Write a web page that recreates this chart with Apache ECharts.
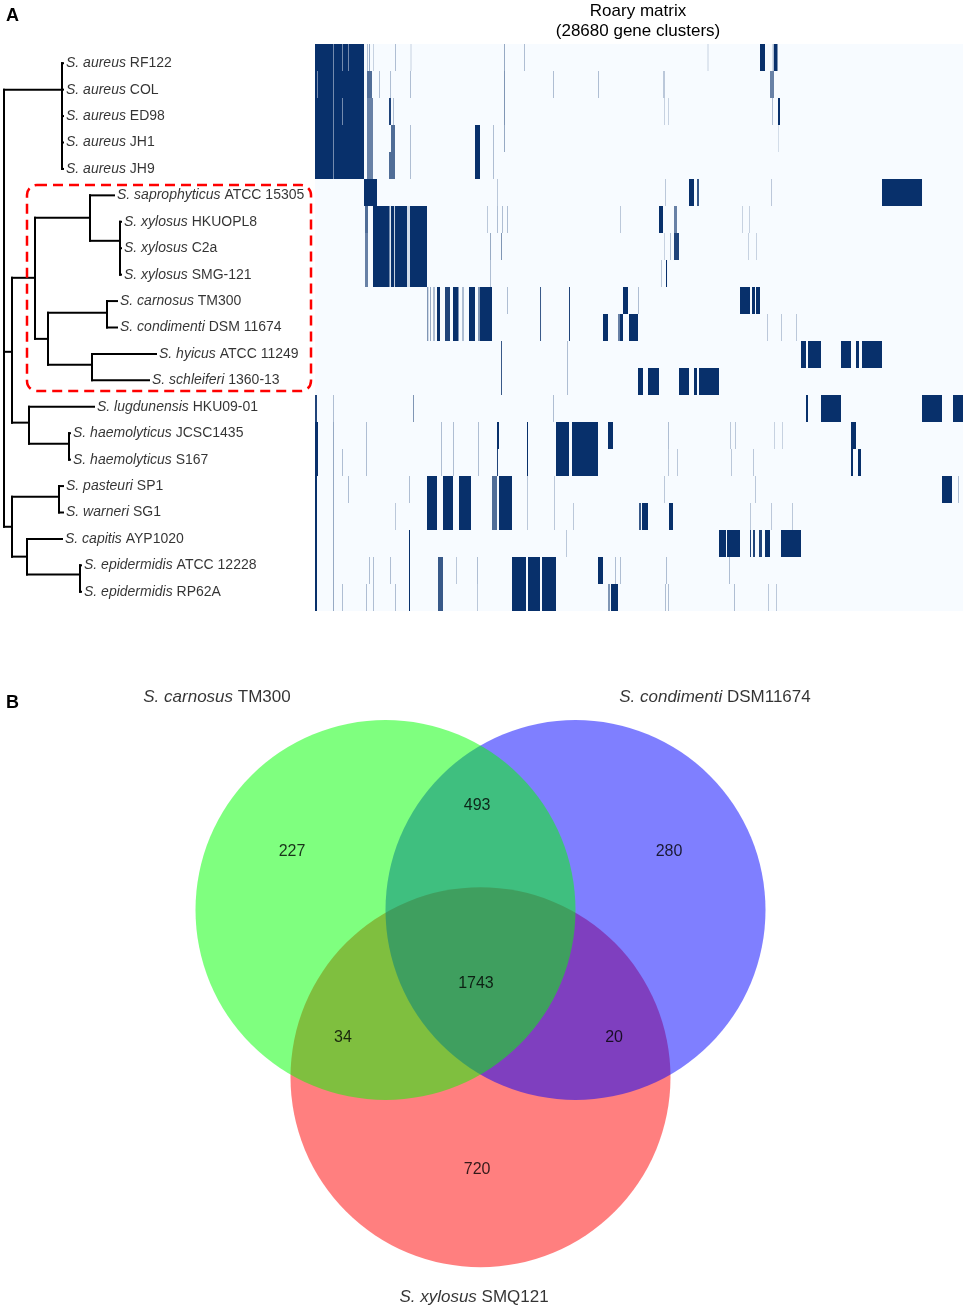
<!DOCTYPE html>
<html><head><meta charset="utf-8">
<script src="https://cdn.jsdelivr.net/npm/echarts@6/dist/echarts.min.js"></script>
<style>html,body{margin:0;padding:0;background:#fff}#main{width:965px;height:1310px}</style>
</head><body><div id="main"></div>
<script>
// ---------- Panel A: genomes (tree leaves / matrix rows) ----------
const genomeSpecies = ['S. aureus','S. aureus','S. aureus','S. aureus','S. aureus','S. saprophyticus','S. xylosus','S. xylosus','S. xylosus','S. carnosus','S. condimenti','S. hyicus','S. schleiferi','S. lugdunensis','S. haemolyticus','S. haemolyticus','S. pasteuri','S. warneri','S. capitis','S. epidermidis','S. epidermidis'];
const genomeStrains = ['RF122','COL','ED98','JH1','JH9','ATCC 15305','HKUOPL8','C2a','SMG-121','TM300','DSM 11674','ATCC 11249','1360-13','HKU09-01','JCSC1435','S167','SP1','SG1','AYP1020','ATCC 12228','RP62A'];
// tree topology: leaf -> parent internal node, branch depth
const leafParent = [1,1,1,1,1,4,5,5,5,7,7,8,8,9,10,10,12,12,13,14,14];
const leafDepth  = [64,64,64,64,64,115,122,122,122,118,118,157,150,95,71,71,64,64,63,82,82];
// internal nodes: parent, depth, row position
const nodeParent = [-1,0,0,2,3,4,3,6,6,2,9,0,11,11,13];
const nodeDepth  = [4,62,12,35,90,120,48,107,92,29,69,12,59,27,80];
const nodeRow    = [null,1.0,10.92,8.12,5.85,6.72,10.43,9.44,11.41,13.6,14.4,17.54,16.4,18.67,19.35];

// Roary presence matrix: [startCluster, endCluster, presence]
const totalClusters = 28680;
const mRF122 = [[0,2169,1],[797,841,.55],[1195,1239,.55],[1461,1505,.55],[2302,2346,.3],[2390,2434,.4],[2567,2611,.2],[3541,3585,.3],[4227,4271,.2],[8365,8409,.4],[9250,9295,.3],[17372,17416,.2],[19696,19917,1],[20249,20315,.3],[20315,20470,1]];
const mCOL = [[0,2169,1],[89,133,.55],[797,841,.55],[2302,2523,.7],[2833,2877,.3],[3320,3364,.3],[4205,4249,.3],[8365,8409,.5],[10534,10578,.3],[12526,12570,.3],[15402,15491,.25],[20138,20315,.6]];
const mED98 = [[0,2169,1],[797,841,.55],[1195,1239,.55],[2302,2567,.6],[3275,3364,.9],[3452,3497,.3],[8365,8409,.5],[15447,15491,.2],[15624,15668,.2],[20227,20271,.3],[20492,20581,1]];
const mJH1 = [[0,2169,1],[797,841,.55],[2302,2567,.6],[3364,3541,.7],[4205,4249,.3],[7082,7303,1],[7878,7922,.3],[8365,8409,.4],[20492,20537,.15]];
const mJH9 = [[0,2169,1],[797,841,.55],[2302,2567,.6],[3275,3541,.7],[4205,4249,.3],[7082,7303,1],[7878,7922,.3]];
const mATCC15305 = [[2169,2744,1],[8055,8099,.25],[15491,15535,.25],[16553,16775,1],[16907,16996,.8],[20183,20227,.25],[25095,26866,1]];
const mHKUOPL8 = [[2213,2346,.7],[2567,4957,1],[3297,3364,.1],[3497,3541,.2],[4072,4205,.15],[7613,7657,.25],[8055,8099,.3],[8277,8321,.3],[8498,8542,.3],[13499,13544,.25],[15225,15402,1],[15889,16022,.6],[18899,18943,.2],[19209,19253,.2]];
const mC2a = [[2213,2346,.6],[2567,4957,1],[3297,3364,.1],[3497,3541,.2],[4072,4205,.15],[7746,7790,.4],[8232,8277,.5],[15447,15491,.2],[15712,15757,.3],[15889,16111,.9],[19165,19209,.2],[19518,19563,.2]];
const mSMG121 = [[2213,2346,.6],[2567,4957,1],[3297,3364,.1],[3497,3541,.2],[4072,4205,.15],[7746,7790,.3],[15314,15358,.25],[15535,15580,1]];
const mTM300 = [[4957,5016,.5],[5090,5134,.4],[5223,5312,.3],[5400,5533,1],[5754,5975,.9],[6108,6351,1],[6507,6595,.3],[6816,7082,1],[7214,7303,.5],[7303,7834,1],[8498,8542,.3],[9959,10003,.8],[11242,11286,.9],[13632,13853,1],[14296,14340,.3],[18811,19253,1],[19341,19474,1],[19518,19696,1]];
const mDSM11674 = [[4957,5016,.5],[5090,5134,.4],[5223,5312,.3],[5400,5533,1],[5754,5975,.9],[6108,6351,1],[6507,6595,.3],[6816,7082,1],[7214,7303,.5],[7303,7834,1],[9959,10003,.8],[11242,11286,.9],[12747,12968,1],[13411,13499,.6],[13499,13632,1],[13897,14296,1],[20006,20050,.25],[20625,20669,.25],[21289,21333,.25]];
const mATCC11249 = [[8232,8277,.8],[11154,11198,.3],[21510,21732,1],[21820,22396,1],[23281,23723,1],[23945,24077,1],[24210,25095,1]];
const m136013 = [[8232,8277,.8],[11154,11198,.3],[14296,14517,1],[14739,15225,1],[16111,16553,1],[16775,16907,1],[16996,17881,1]];
const mHKU0901 = [[0,89,.9],[797,841,.3],[4337,4382,.5],[10534,10578,.3],[21732,21820,1],[22396,23281,1],[26866,27751,1],[28238,28680,1]];
const mJCSC1435 = [[0,133,1],[797,841,.4],[2257,2302,.3],[5577,5621,.3],[6108,6152,.3],[7214,7259,.3],[8055,8144,1],[9383,9427,1],[10667,11242,1],[11375,12526,1],[12968,13189,1],[15624,15668,.3],[18368,18412,.25],[18589,18633,.25],[20315,20360,.2],[20669,20714,.2],[23723,23945,1]];
const mS167 = [[0,133,1],[797,841,.4],[1195,1239,.3],[2257,2302,.3],[5577,5621,.3],[6108,6152,.3],[7214,7259,.3],[8055,8099,.9],[9383,9427,1],[10667,11242,1],[11375,12526,1],[15624,15668,.25],[16022,16066,.25],[18412,18456,.25],[19386,19430,.25],[23723,23812,1],[24033,24166,1]];
const mSP1 = [[0,89,1],[797,841,.4],[1461,1505,.3],[4160,4205,.3],[4957,5400,1],[5665,6108,1],[6373,6905,1],[7834,8055,.7],[8144,8719,1],[9383,9427,.25],[10578,10622,.25],[15447,15491,.25],[19474,19518,.25],[27751,28194,1],[28459,28503,.3]];
const mSG1 = [[0,89,1],[797,841,.4],[3541,3585,.25],[4957,5400,1],[5665,6108,1],[6373,6905,1],[7834,8055,.7],[8144,8719,1],[9383,9427,.25],[10578,10622,.25],[11419,11463,.25],[14340,14429,.8],[14473,14739,1],[15668,15845,1],[19253,19297,.25],[20183,20227,.25],[21112,21156,.25]];
const mAYP1020 = [[0,89,1],[797,841,.4],[4160,4205,1],[11109,11154,.25],[17881,18191,1],[18235,18811,1],[19253,19297,.9],[19386,19474,.9],[19651,19784,.9],[19917,20138,1],[20625,21510,1]];
const mATCC12228 = [[0,89,1],[797,841,.4],[2390,2434,.3],[2567,2611,.3],[3320,3364,.3],[4160,4205,1],[5444,5665,.8],[6241,6285,.25],[7170,7214,.3],[8719,9339,1],[9427,9959,1],[10047,10667,1],[12526,12747,1],[13278,13322,.3],[13499,13544,.3],[15535,15580,.3],[18323,18368,.3]];
const mRP62A = [[0,89,1],[797,841,.4],[1195,1239,.3],[2257,2302,.3],[2567,2611,.3],[3541,3585,.3],[4160,4205,1],[5444,5665,.8],[7170,7214,.25],[8719,9339,1],[9427,9959,1],[10047,10667,1],[12968,13057,.5],[13101,13411,1],[15491,15535,.3],[15624,15668,.3],[18545,18589,.3],[20050,20094,.25],[20404,20448,.25]];
const matrixRows = [mRF122,mCOL,mED98,mJH1,mJH9,mATCC15305,mHKUOPL8,mC2a,mSMG121,mTM300,mDSM11674,mATCC11249,m136013,mHKU0901,mJCSC1435,mS167,mSP1,mSG1,mAYP1020,mATCC12228,mRP62A];

// ---------- Panel B: Venn ----------
const vennSpecies = ['S. carnosus','S. condimenti','S. xylosus'];
const vennStrains = ['TM300','DSM11674','SMQ121'];
const vennRegions = ['carnosus only','carnosus & condimenti','condimenti only','all three','carnosus & xylosus','condimenti & xylosus','xylosus only'];
const vennCounts = [227,493,280,1743,34,20,720];

// ---------- layout (positions / styles) ----------
const vennCircleLayout = [[-0.5,0,1],[0.5,0,1],[0,-0.88,1]]; // unit-radius circles
const vennCircleColors = ['rgba(0,255,0,0.5)','rgba(0,0,255,0.5)','rgba(255,0,0,0.5)'];
const vennSetLabelPos = [[-1.387,1.121],[1.234,1.121],[-0.034,-2.037]];
const vennCountPos = [[-0.992,0.305],[-0.018,0.547],[0.992,0.305],[-0.024,-0.389],[-0.724,-0.674],[0.703,-0.674],[-0.018,-1.368]];
const FONT = '"Liberation Sans", Arial, sans-serif';

// tree items
const treeItems = [];
nodeDepth.forEach((d,i)=>{
  const kids = [];
  nodeParent.forEach((p,j)=>{ if(p===i) kids.push(nodeRow[j]); });
  leafParent.forEach((p,j)=>{ if(p===i) kids.push(j); });
  const mn = Math.min(...kids), mx = Math.max(...kids);
  const row = nodeRow[i]==null ? (mn+mx)/2 : nodeRow[i];
  const pd = nodeParent[i] < 0 ? d : nodeDepth[nodeParent[i]];
  treeItems.push([d,row,pd,mn,mx,1]);
});
leafDepth.forEach((d,j)=>{ treeItems.push([d,j,nodeDepth[leafParent[j]],j,j,0]); });

const matrixData = [];
matrixRows.forEach((segs,r)=>segs.forEach(s=>matrixData.push([r,s[0],s[1],s[2]])));

const chart = echarts.init(document.getElementById('main'), null, {renderer:'canvas'});
const option = {
  animation:false,
  backgroundColor:'#fff',
  textStyle:{fontFamily:FONT},
  graphic:[
    {type:'text',left:6,top:7,style:{text:'A',font:'bold 18px '+FONT,fill:'#000'}},
    {type:'text',left:6,top:694,style:{text:'B',font:'bold 18px '+FONT,fill:'#000'}},
    {type:'text',x:638,y:1,style:{text:'Roary matrix\n(28680 gene clusters)',font:'17px '+FONT,fill:'#000',align:'center',lineHeight:20}},
    {type:'rect',shape:{x:27,y:185,width:284,height:206,r:10},style:{fill:'none',stroke:'#FF0000',lineWidth:2.5,lineDash:[10,6]},z:10}
  ],
  grid:[
    {left:0,top:50,width:320,height:555,show:false},
    {left:315,top:44,width:648,height:567,show:true,backgroundColor:'#F7FBFF',borderWidth:0},
    {left:5.5,top:663,width:950,height:646,show:false}
  ],
  xAxis:[
    {gridIndex:0,type:'value',min:0,max:320,show:false},
    {gridIndex:1,type:'value',min:0,max:totalClusters,show:false},
    {gridIndex:2,type:'value',min:-2.5,max:2.5,show:false}
  ],
  yAxis:[
    {gridIndex:0,type:'value',min:-0.5,max:20.5,inverse:true,show:false},
    {gridIndex:1,type:'category',data:genomeStrains,inverse:true,show:false},
    {gridIndex:2,type:'value',min:-2.1,max:1.3,show:false}
  ],
  series:[
    {type:'custom',xAxisIndex:0,yAxisIndex:0,data:treeItems,encode:{x:0,y:1},silent:true,
      renderItem(params,api){
        const x=api.value(0),y=api.value(1),px=api.value(2),cmin=api.value(3),cmax=api.value(4),internal=api.value(5);
        const style={stroke:'#000',lineWidth:2};
        const ch=[];
        const a=api.coord([px,y]), b=api.coord([x,y]);
        if(b[0]-a[0]>0.1) ch.push({type:'line',shape:{x1:a[0]-1,y1:a[1],x2:b[0],y2:b[1]},style});
        if(internal){const c1=api.coord([x,cmin]),c2=api.coord([x,cmax]);ch.push({type:'line',shape:{x1:c1[0],y1:c1[1]-1,x2:c2[0],y2:c2[1]+1},style});}
        return {type:'group',children:ch};
      }},
    {type:'scatter',xAxisIndex:0,yAxisIndex:0,symbolSize:0,silent:true,
      data:leafDepth.map((d,j)=>[d,j]),
      label:{show:true,position:'right',distance:2,color:'#000',fontSize:14,fontFamily:FONT,
        formatter:p=>'{i|'+genomeSpecies[p.dataIndex]+'} '+genomeStrains[p.dataIndex],
        rich:{i:{fontStyle:'italic',fontSize:14,fontFamily:FONT,color:'#000'}}}},
    {type:'custom',xAxisIndex:1,yAxisIndex:1,data:matrixData,encode:{x:[1,2],y:0},silent:true,
      renderItem(params,api){
        const r=api.value(0),s=api.value(1),e=api.value(2),v=api.value(3);
        const p1=api.coord([s,r]),p2=api.coord([e,r]);
        const h=api.size([0,1])[1];
        return {type:'rect',shape:{x:p1[0],y:p1[1]-h/2,width:Math.max(1,p2[0]-p1[0]),height:h},
          style:{fill:echarts.color.lerp(v,['#F7FBFF','#08306B'])}};
      }},
    {type:'custom',xAxisIndex:2,yAxisIndex:2,silent:true,
      data:[2,1,0].map(i=>[vennCircleLayout[i][0],vennCircleLayout[i][1],vennCircleLayout[i][2],i]),
      encode:{x:0,y:1},
      renderItem(params,api){
        const c=api.coord([api.value(0),api.value(1)]);
        const rad=api.size([api.value(2),0])[0];
        return {type:'circle',shape:{cx:c[0],cy:c[1],r:rad},style:{fill:vennCircleColors[api.value(3)]}};
      }},
    {type:'scatter',xAxisIndex:2,yAxisIndex:2,symbolSize:0,silent:true,z:5,
      data:vennSetLabelPos.map((p,i)=>({value:p,name:vennSpecies[i]})),
      label:{show:true,position:'inside',color:'#000',fontSize:17,fontFamily:FONT,
        formatter:p=>'{i|'+vennSpecies[p.dataIndex]+'} '+vennStrains[p.dataIndex],
        rich:{i:{fontStyle:'italic',fontSize:17,fontFamily:FONT,color:'#000'}}}},
    {type:'scatter',xAxisIndex:2,yAxisIndex:2,symbolSize:0,silent:true,z:5,
      data:vennCountPos.map((p,i)=>({value:p,name:vennRegions[i]})),
      label:{show:true,position:'inside',color:'#000',fontSize:16,fontFamily:FONT,
        formatter:p=>String(vennCounts[p.dataIndex])}}
  ]
};
chart.setOption(option);
</script></body></html>
